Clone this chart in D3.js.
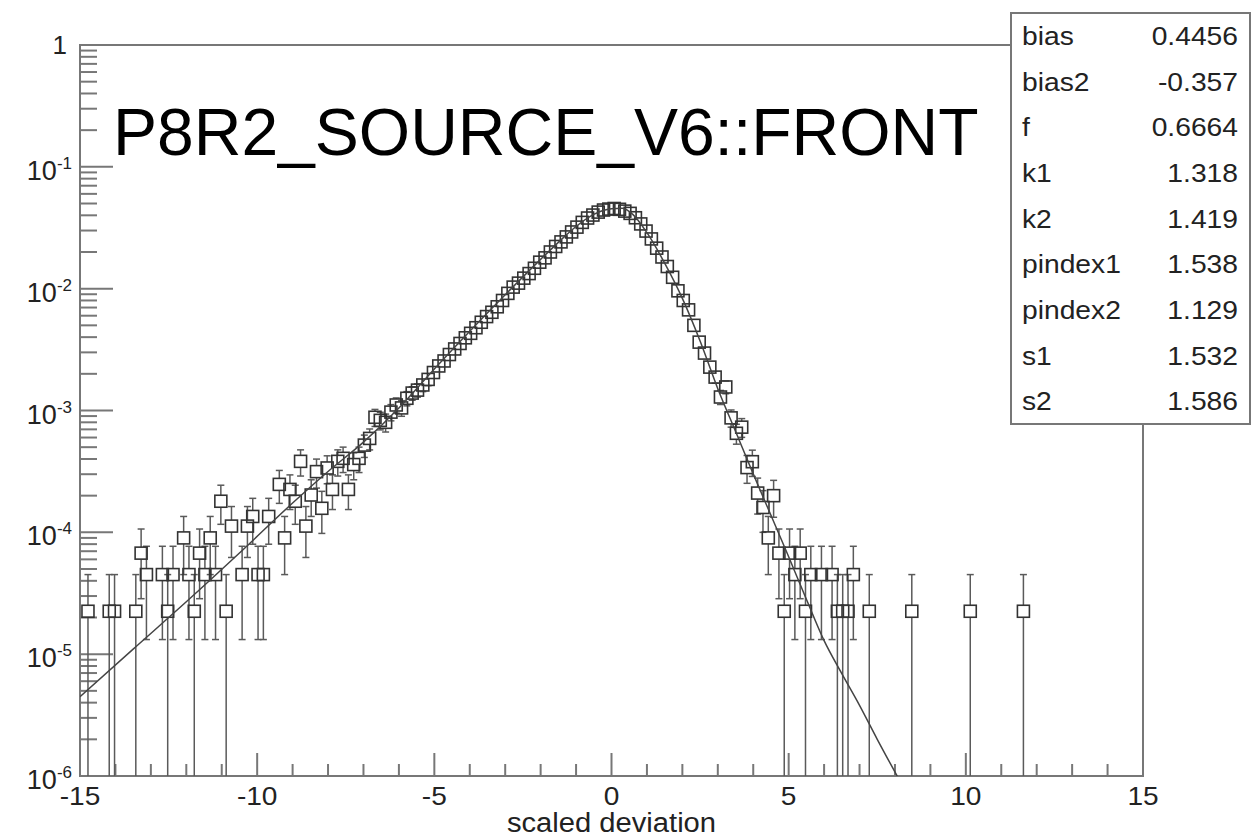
<!DOCTYPE html>
<html>
<head>
<meta charset="utf-8">
<script src="https://cdn.jsdelivr.net/npm/d3@7"></script>
<style>
  body { margin: 0; background: #fff; }
  text { font-family: "Liberation Sans", Arial, Helvetica, sans-serif; }
</style>
</head>
<body>
<div id="chart"></div>
<script>
// histogram bins (centres) and contents
const binCenters = [
  -14.775, -14.175, -14.025, -13.425, -13.275, -13.125, -12.675, -12.525, -12.375, -12.075,
  -11.925, -11.775, -11.625, -11.475, -11.325, -11.175, -11.025, -10.875, -10.725, -10.425,
  -10.275, -10.125, -9.975, -9.825, -9.675, -9.375, -9.225, -9.075, -8.925, -8.775,
  -8.625, -8.475, -8.325, -8.175, -8.025, -7.875, -7.725, -7.575, -7.425, -7.275, -7.125,
  -6.975, -6.825, -6.675, -6.525, -6.375, -6.225, -6.075, -5.925, -5.775, -5.625,
  -5.475, -5.325, -5.175, -5.025, -4.875, -4.725, -4.575, -4.425, -4.275, -4.125,
  -3.975, -3.825, -3.675, -3.525, -3.375, -3.225, -3.075, -2.925, -2.775, -2.625,
  -2.475, -2.325, -2.175, -2.025, -1.875, -1.725, -1.575, -1.425, -1.275, -1.125,
  -0.975, -0.825, -0.675, -0.525, -0.375, -0.225, -0.075, 0.075, 0.225, 0.375,
  0.525, 0.675, 0.825, 0.975, 1.125, 1.275, 1.425, 1.575, 1.725, 1.875,
  2.025, 2.175, 2.325, 2.475, 2.625, 2.775, 2.925, 3.075, 3.225, 3.375,
  3.525, 3.675, 3.825, 3.975, 4.125, 4.275, 4.425, 4.575,
  4.725, 4.875, 5.025, 5.175, 5.325, 5.475, 5.625, 5.925, 6.225, 6.375,
  6.525, 6.675, 6.825, 7.275, 8.475, 10.125, 11.625
];
const binValues = [
  2.25e-5, 2.25e-5, 2.25e-5, 2.25e-5, 6.75e-5, 4.5e-5, 4.5e-5, 2.25e-5, 4.5e-5, 9.0e-5,
  4.5e-5, 2.25e-5, 6.75e-5, 4.5e-5, 9.0e-5, 4.5e-5, 1.8e-4, 2.25e-5, 1.125e-4, 4.5e-5,
  1.125e-4, 1.35e-4, 4.5e-5, 4.5e-5, 1.35e-4, 2.475e-4, 9.0e-5, 2.25e-4, 1.8e-4, 3.825e-4,
  1.125e-4, 2.025e-4, 3.15e-4, 1.575e-4, 3.375e-4, 2.25e-4, 3.825e-4, 4.05e-4, 2.25e-4, 3.6e-4, 4.05e-4,
  5.2e-4, 5.9e-4, 8.8e-4, 8.3e-4, 8.0e-4, 9.7e-4, 1.11e-3, 1.05e-3, 1.26e-3, 1.39e-3,
  1.47e-3, 1.62e-3, 1.80e-3, 2.05e-3, 2.32e-3, 2.55e-3, 2.88e-3, 3.20e-3, 3.55e-3, 3.95e-3,
  4.30e-3, 4.78e-3, 5.30e-3, 5.90e-3, 6.40e-3, 7.10e-3, 8.00e-3, 9.15e-3, 1.03e-2, 1.11e-2,
  1.22e-2, 1.33e-2, 1.47e-2, 1.65e-2, 1.79e-2, 2.00e-2, 2.22e-2, 2.42e-2, 2.66e-2, 2.92e-2,
  3.20e-2, 3.50e-2, 3.80e-2, 4.02e-2, 4.25e-2, 4.42e-2, 4.50e-2, 4.55e-2, 4.48e-2, 4.33e-2,
  4.15e-2, 3.82e-2, 3.40e-2, 2.97e-2, 2.56e-2, 2.15e-2, 1.82e-2, 1.52e-2, 1.24e-2, 9.6e-3,
  8.0e-3, 6.7e-3, 5.0e-3, 3.64e-3, 2.96e-3, 2.27e-3, 1.88e-3, 1.29e-3, 1.56e-3, 8.7e-4,
  6.5e-4, 7.3e-4, 3.4e-4, 3.8e-4, 2.1e-4, 1.6e-4, 9.0e-5, 2.0e-4,
  6.75e-5, 2.25e-5, 6.75e-5, 4.5e-5, 6.75e-5, 2.25e-5, 4.5e-5, 4.5e-5, 4.5e-5, 2.25e-5,
  2.25e-5, 2.25e-5, 4.5e-5, 2.25e-5, 2.25e-5, 2.25e-5, 2.25e-5
];
const entryWeight = 2.25e-5; // content of a single entry, for poisson errors

// fitted function, sampled off the drawn curve
const fitX = [-15, -13.5, -12, -10.5, -9, -8, -7, -6, -5, -4, -3, -2, -1.5, -1, -0.5,
  0, 0.3, 0.6, 1, 1.5, 2, 2.5, 3, 3.5, 4, 4.5, 5, 5.5, 6, 6.5, 7, 7.5, 8.1];
const fitY = [4.47e-6, 1.10e-5, 2.69e-5, 6.76e-5, 1.74e-4, 3.16e-4, 5.50e-4, 1.05e-3, 2.19e-3, 4.47e-3,
  8.91e-3, 1.74e-2, 2.40e-2, 3.24e-2, 4.07e-2, 4.52e-2, 4.57e-2, 4.07e-2, 2.88e-2, 1.62e-2,
  8.32e-3, 3.72e-3, 1.51e-3, 6.76e-4, 3.02e-4, 1.38e-4, 6.31e-5, 2.82e-5, 1.29e-5, 6.92e-6,
  3.80e-6, 2.00e-6, 9.55e-7];

const paramNames = ['bias', 'bias2', 'f', 'k1', 'k2', 'pindex1', 'pindex2', 's1', 's2'];
const paramValues = ['0.4456', '-0.357', '0.6664', '1.318', '1.419', '1.538', '1.129', '1.532', '1.586'];

const xLabelTicks = [-15, -10, -5, 0, 5, 10, 15];
const yExponents = [-6, -5, -4, -3, -2, -1, 0];
const titleText = 'P8R2_SOURCE_V6::FRONT';
const xTitle = 'scaled deviation';

const W = 1253, H = 839;
const frame = { left: 80, right: 1143, top: 45, bottom: 776 };
const axisColor = '#777';

const svg = d3.select('#chart').append('svg')
    .attr('width', W)
    .attr('height', H)
    .style('background', '#fff');

const x = d3.scaleLinear().domain([-15, 15]).range([frame.left, frame.right]);
const y = d3.scaleLog().domain([1e-6, 1]).range([frame.bottom, frame.top]);

svg.append('clipPath').attr('id', 'plotClip')
    .append('rect')
    .attr('x', frame.left).attr('y', frame.top)
    .attr('width', frame.right - frame.left).attr('height', frame.bottom - frame.top);

// frame
svg.append('rect')
    .attr('x', frame.left).attr('y', frame.top)
    .attr('width', frame.right - frame.left).attr('height', frame.bottom - frame.top)
    .attr('fill', 'none')
    .attr('stroke', axisColor)
    .attr('stroke-width', 2);

// y ticks (log, drawn inward)
const yTickVals = [];
yExponents.forEach(e => {
    yTickVals.push({ v: Math.pow(10, e), major: true });
    if (e < 0) {
        for (let m = 2; m <= 9; m++) yTickVals.push({ v: m * Math.pow(10, e), major: false });
    }
});
svg.append('g').selectAll('line')
    .data(yTickVals)
    .enter().append('line')
    .attr('x1', frame.left)
    .attr('x2', d => frame.left + (d.major ? 33 : 17))
    .attr('y1', d => y(d.v))
    .attr('y2', d => y(d.v))
    .attr('stroke', axisColor)
    .attr('stroke-width', 2);

// x ticks
const xTickVals = d3.range(-15, 16);
svg.append('g').selectAll('line')
    .data(xTickVals)
    .enter().append('line')
    .attr('x1', d => x(d))
    .attr('x2', d => x(d))
    .attr('y1', frame.bottom)
    .attr('y2', d => frame.bottom - (d % 5 === 0 ? 23 : 12))
    .attr('stroke', axisColor)
    .attr('stroke-width', 2);

// y labels
const yLab = svg.append('g').attr('fill', '#222');
yExponents.forEach(e => {
    const ty = y(Math.pow(10, e));
    if (e === 0) {
        yLab.append('text')
            .attr('x', 67).attr('y', ty + 9)
            .attr('text-anchor', 'end')
            .attr('font-size', 26)
            .text('1');
        return;
    }
    const t = yLab.append('text')
        .attr('x', 72).attr('y', ty + 13)
        .attr('text-anchor', 'end')
        .attr('font-size', 27);
    t.append('tspan').text('10');
    t.append('tspan').attr('font-size', 17).attr('dy', -11).text(String(e));
});

// x labels
svg.append('g').selectAll('text')
    .data(xLabelTicks)
    .enter().append('text')
    .attr('transform', d => `translate(${x(d)},805) scale(1.08,1)`)
    .attr('text-anchor', 'middle')
    .attr('font-size', 26)
    .attr('fill', '#222')
    .text(d => d);

svg.append('text')
    .attr('transform', `translate(${x(0)},832) scale(1.08,1)`)
    .attr('text-anchor', 'middle')
    .attr('font-size', 27)
    .attr('fill', '#222')
    .text(xTitle);

// data points with poisson error bars
const points = binCenters.map((c, i) => {
    const v = binValues[i];
    const err = Math.sqrt(v * entryWeight);
    return { x: c, v: v, up: v + err, lo: v - err };
});
const half = 6;
const bars = svg.append('g')
    .attr('stroke', '#5a5a5a')
    .attr('stroke-width', 1.5);
points.forEach(p => {
    const cx = x(p.x), cy = y(p.v);
    const yUp = y(p.up);
    const yLo = p.lo > 1e-6 ? y(p.lo) : frame.bottom;
    if (yUp < cy - half) {
        bars.append('line').attr('x1', cx).attr('x2', cx).attr('y1', cy - half).attr('y2', yUp);
        bars.append('line').attr('x1', cx - 3.5).attr('x2', cx + 3.5).attr('y1', yUp).attr('y2', yUp);
    }
    if (yLo > cy + half) {
        bars.append('line').attr('x1', cx).attr('x2', cx).attr('y1', cy + half).attr('y2', yLo);
        if (yLo < frame.bottom) {
            bars.append('line').attr('x1', cx - 3.5).attr('x2', cx + 3.5).attr('y1', yLo).attr('y2', yLo);
        }
    }
});

svg.append('g').selectAll('rect')
    .data(points)
    .enter().append('rect')
    .attr('x', d => x(d.x) - half)
    .attr('y', d => y(d.v) - half)
    .attr('width', half * 2)
    .attr('height', half * 2)
    .attr('fill', 'none')
    .attr('stroke', '#333')
    .attr('stroke-width', 1.6);

// fit curve
const fitLine = d3.line()
    .x(d => x(d[0]))
    .y(d => y(d[1]))
    .curve(d3.curveMonotoneX);
svg.append('path')
    .datum(fitX.map((v, i) => [v, fitY[i]]))
    .attr('clip-path', 'url(#plotClip)')
    .attr('d', fitLine)
    .attr('fill', 'none')
    .attr('stroke', '#444')
    .attr('stroke-width', 1.5);

// title
svg.append('text')
    .attr('x', 113).attr('y', 155)
    .attr('font-size', 66)
    .attr('fill', '#000')
    .text(titleText);

// stats box
const box = { x: 1011, y: 13, w: 239, h: 411 };
svg.append('rect')
    .attr('x', box.x).attr('y', box.y)
    .attr('width', box.w).attr('height', box.h)
    .attr('fill', '#fff')
    .attr('stroke', axisColor)
    .attr('stroke-width', 2);
const rowH = box.h / paramNames.length;
const stats = svg.append('g').attr('fill', '#222').attr('font-size', 25);
paramNames.forEach((name, i) => {
    const by = box.y + rowH * (i + 0.5) + 9;
    stats.append('text')
        .attr('transform', `translate(1022,${by}) scale(1.13,1)`)
        .text(name);
    stats.append('text')
        .attr('transform', `translate(1238,${by}) scale(1.13,1)`)
        .attr('text-anchor', 'end')
        .text(paramValues[i]);
});
</script>
</body>
</html>
